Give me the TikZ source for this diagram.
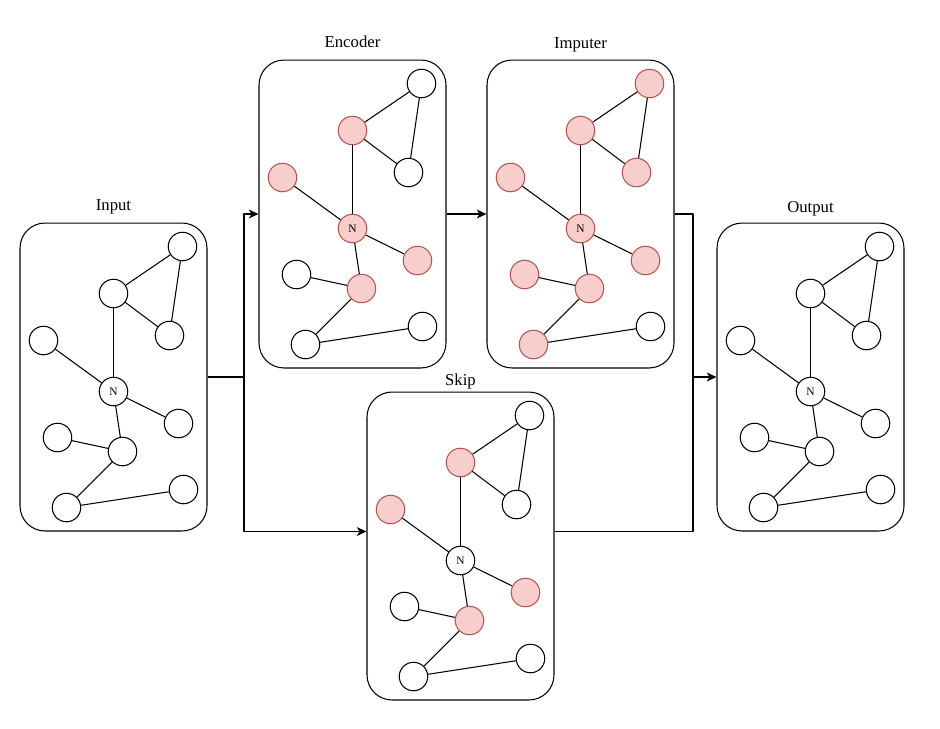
\documentclass[tikz,border=0pt]{standalone}
\usepackage{fontspec}
\setmainfont{Liberation Serif}
\usetikzlibrary{arrows.meta}
\definecolor{wfill}{HTML}{FFFFFF}
\definecolor{wline}{HTML}{000000}
\definecolor{rfill}{HTML}{F8CECC}
\definecolor{rline}{HTML}{B85450}
\begin{document}
\begin{tikzpicture}[x=0.02cm, y=-0.02cm, line width=0.6pt, line join=round, >={Stealth[length=5.5pt, width=5pt, inset=1.5pt]},
	box/.style={draw, rounded corners=0.5cm, minimum width=3.74cm, minimum height=6.16cm, inner sep=0pt},
	title/.style={anchor=base, font=\fontsize{9.5}{11}\selectfont},
	vtx/.style={circle, draw=#1line, fill=#1fill, minimum size=0.57cm, inner sep=0pt, font=\fontsize{6.5}{7}\selectfont}]
	\useasboundingbox (0,0) rectangle (940,728);
	
	% 1. Khung cho từng giai đoạn
	\node[box] (input) at (113.5,377) {};
	\node[box] (encoder) at (352.5,214) {};
	\node[box] (imputer) at (580.5,214) {};
	\node[box] (skip) at (460.5,546) {};
	\node[box] (output) at (810.5,377) {};
	
	% 2. Tiêu đề phía trên khung
	\node[title] (input-t) at ([yshift=0.24cm]input.north) {Input};
	\node[title] (encoder-t) at ([yshift=0.24cm]encoder.north) {Encoder};
	\node[title] (imputer-t) at ([yshift=0.22cm]imputer.north) {Imputer};
	\node[title] (skip-t) at ([yshift=0.12cm]skip.north) {Skip};
	\node[title] (output-t) at ([yshift=0.2cm]output.north) {Output};
	
	% 3. Đồ thị trong mỗi khung (w = trắng, r = đỏ)
	\foreach \bx/\ca/\cb/\cc/\cd/\cn/\ce/\cf/\cg/\ch/\ci in {
		input/w/w/w/w/w/w/w/w/w/w,
		encoder/w/r/w/r/r/r/w/r/w/w,
		imputer/r/r/r/r/r/r/r/r/w/r,
		skip/w/r/w/r/w/r/w/r/w/w,
		output/w/w/w/w/w/w/w/w/w/w}{
		\begin{scope}[shift={(\bx.north west)}]
			\node[vtx=\ca] (\bx-a) at (163,24) {};
			\node[vtx=\cb] (\bx-b) at (94,71) {};
			\node[vtx=\cc] (\bx-c) at (150,113) {};
			\node[vtx=\cd] (\bx-d) at (24,118) {};
			\node[vtx=\cn] (\bx-n) at (94,169) {N};
			\node[vtx=\ce] (\bx-e) at (159,201) {};
			\node[vtx=\cf] (\bx-f) at (38,215) {};
			\node[vtx=\cg] (\bx-g) at (103,229) {};
			\node[vtx=\ch] (\bx-h) at (164,267) {};
			\node[vtx=\ci] (\bx-i) at (47,285) {};
		\end{scope}
		\draw (\bx-a) -- (\bx-b);
		\draw (\bx-a) -- (\bx-c);
		\draw (\bx-b) -- (\bx-c);
		\draw (\bx-b) -- (\bx-n);
		\draw (\bx-d) -- (\bx-n);
		\draw (\bx-n) -- (\bx-e);
		\draw (\bx-n) -- (\bx-g);
		\draw (\bx-f) -- (\bx-g);
		\draw (\bx-g) -- (\bx-i);
		\draw (\bx-i) -- (\bx-h);
	}
	
	% 4. Các đường nối giữa các khung
	\coordinate (split) at (244,377);
	\coordinate (merge) at (693,377);
	\draw (input.east) -- (split);
	\draw[->] (split) |- (encoder.west);
	\draw[->] (split) |- (skip.west |- input.south);
	\draw[->] (encoder.east) -- (imputer.west);
	\draw (imputer.east) -| (merge);
	\draw (skip.east |- input.south) -| (merge);
	\draw[->] (merge) -- (output.west);
\end{tikzpicture}
\end{document}
